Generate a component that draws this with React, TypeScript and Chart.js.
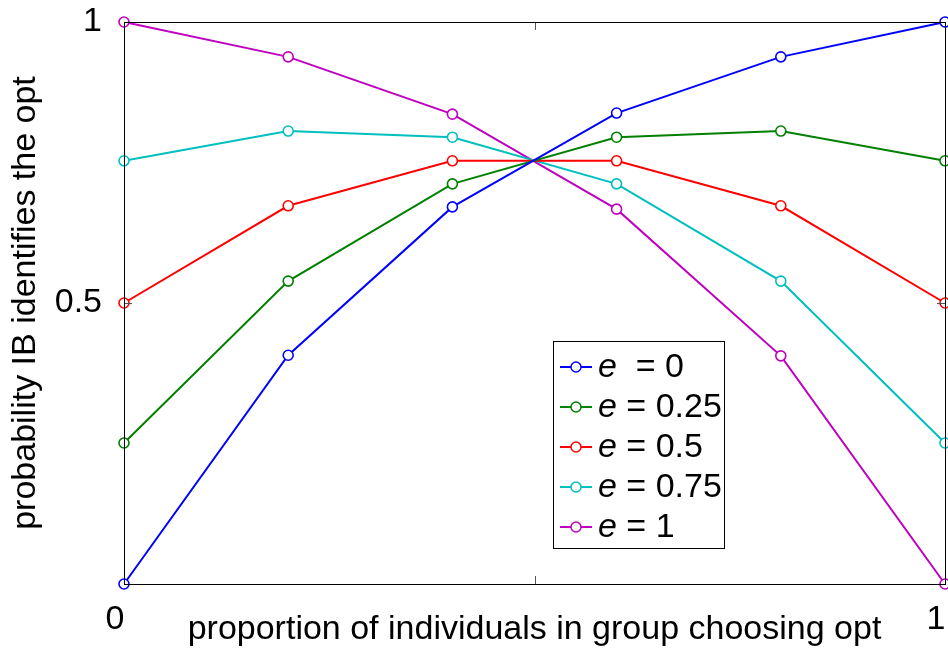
import React, { useEffect, useRef } from "react";
import { Chart, registerables } from "chart.js";

Chart.register(...registerables);

const xValues = [0, 0.2, 0.4, 0.6, 0.8, 1];
const e0 = [0, 0.407, 0.671, 0.838, 0.938, 1];
const e025 = [0.251, 0.539, 0.712, 0.795, 0.806, 0.753];
const e05 = [0.5, 0.673, 0.753, 0.753, 0.673, 0.5];
const e075 = [0.753, 0.806, 0.795, 0.712, 0.539, 0.251];
const e1 = [1, 0.938, 0.836, 0.667, 0.406, 0];
const seriesLabels = ["e  = 0", "e = 0.25", "e = 0.5", "e = 0.75", "e = 1"];
const seriesColors = ["#0000ff", "#008000", "#ff0000", "#00bfbf", "#bf00bf"];
const xTickLabels: Record<string, string> = { "0": "0", "1": "1" };
const yTickLabels: Record<string, string> = { "0.5": "0.5", "1": "1" };

const FONT = "'Liberation Sans', Arial, sans-serif";
const FS = 34;

const framePlugin = {
  id: "frame",
  afterDatasetsDraw(chart: any) {
    const { ctx, chartArea } = chart;
    const { left, right, top, bottom } = chartArea;
    ctx.save();
    ctx.strokeStyle = "#555";
    ctx.lineWidth = 1;
    const xs = chart.scales.x;
    const ys = chart.scales.y;
    const tl = 8;
    ctx.beginPath();
    [0.5].forEach((v) => {
      const px = Math.round(xs.getPixelForValue(v)) + 0.5;
      ctx.moveTo(px, bottom);
      ctx.lineTo(px, bottom - tl);
      ctx.moveTo(px, top);
      ctx.lineTo(px, top + tl);
      const py = Math.round(ys.getPixelForValue(v)) + 0.5;
      ctx.moveTo(left, py);
      ctx.lineTo(left + tl, py);
      ctx.moveTo(right, py);
      ctx.lineTo(right - tl, py);
    });
    ctx.stroke();
    ctx.strokeStyle = "#000";
    ctx.lineWidth = 1;
    ctx.strokeRect(Math.round(left) + 0.5, Math.round(top) + 0.5, Math.round(right - left), Math.round(bottom - top));
    ctx.restore();
  },
  afterDraw(chart: any) {
    const { ctx, chartArea } = chart;
    const bx = chartArea.left + 429;
    const by = chartArea.top + 319;
    const bw = 171;
    const bh = 207;
    ctx.save();
    ctx.fillStyle = "#fff";
    ctx.fillRect(bx, by, bw, bh);
    ctx.strokeStyle = "#000";
    ctx.lineWidth = 1;
    ctx.strokeRect(bx + 0.5, by + 0.5, bw, bh);
    chart.data.datasets.forEach((ds: any, i: number) => {
      const cy = by + 26 + i * 40;
      ctx.strokeStyle = ds.borderColor;
      ctx.lineWidth = 2;
      ctx.beginPath();
      ctx.moveTo(bx + 7, cy);
      ctx.lineTo(bx + 39, cy);
      ctx.stroke();
      ctx.fillStyle = "#fff";
      ctx.lineWidth = 1.5;
      ctx.beginPath();
      ctx.arc(bx + 23, cy, 5, 0, Math.PI * 2);
      ctx.fill();
      ctx.stroke();
      const label: string = ds.label;
      ctx.fillStyle = "#000";
      ctx.textBaseline = "middle";
      ctx.textAlign = "left";
      ctx.font = `italic ${FS}px ${FONT}`;
      const first = label.charAt(0);
      ctx.fillText(first, bx + 45, cy + 1);
      const w = ctx.measureText(first).width;
      ctx.font = `${FS}px ${FONT}`;
      ctx.fillText(label.slice(1), bx + 45 + w, cy + 1);
    });
    ctx.restore();
  },
};

export default function App() {
  const ref = useRef<HTMLCanvasElement>(null);
  useEffect(() => {
    if (!ref.current) return;
    const all = [e0, e025, e05, e075, e1];
    const chart = new Chart(ref.current, {
      type: "line",
      data: {
        datasets: all.map((vals, i) => ({
          label: seriesLabels[i],
          data: xValues.map((x, j) => ({ x, y: vals[j] })),
          borderColor: seriesColors[i],
          backgroundColor: "#ffffff",
          pointBorderColor: seriesColors[i],
          pointBackgroundColor: "#ffffff",
          borderWidth: 2,
          pointRadius: 5,
          pointBorderWidth: 1.6,
          tension: 0,
          clip: false as any,
        })),
      },
      options: {
        responsive: false,
        animation: false,
        layout: { padding: { top: 22, right: 3, left: 0, bottom: 0 }, autoPadding: false },
        plugins: { legend: { display: false }, tooltip: { enabled: false } },
        scales: {
          x: {
            type: "linear",
            min: 0,
            max: 1,
            grid: { display: false },
            border: { display: false },
            afterFit: (s: any) => {
              s.height = 65;
              s.paddingLeft = 0;
              s.paddingRight = 0;
              s.paddingTop = 0;
              s.paddingBottom = 0;
            },
            ticks: {
              stepSize: 0.5,
              autoSkip: false,
              maxRotation: 0,
              padding: 7,
              labelOffset: -9,
              color: "#000",
              font: { family: FONT, size: FS },
              callback: (v: any) => xTickLabels[String(v)] ?? "",
            },
            title: {
              display: true,
              text: "proportion of individuals in group choosing opt",
              color: "#000",
              font: { family: FONT, size: FS, lineHeight: 1.2 },
              padding: { top: 0, bottom: -1 },
            },
          },
          y: {
            min: 0,
            max: 1,
            grid: { display: false },
            border: { display: false },
            afterFit: (s: any) => {
              s.width = 124;
              s.paddingLeft = 0;
              s.paddingRight = 0;
              s.paddingTop = 0;
              s.paddingBottom = 0;
            },
            ticks: {
              stepSize: 0.5,
              autoSkip: false,
              padding: 14,
              color: "#000",
              font: { family: FONT, size: FS },
              callback: (v: any) => yTickLabels[String(v)] ?? "",
            },
            title: {
              display: true,
              text: "probability IB identifies the opt",
              color: "#000",
              font: { family: FONT, size: FS, lineHeight: 1.2 },
              padding: { top: 5, bottom: 0 },
            },
          },
        },
      },
      plugins: [framePlugin],
    });
    return () => chart.destroy();
  }, []);
  return (
    <div style={{ position: "absolute", left: 0, top: 0, width: 948, height: 649, background: "#fff" }}>
      <canvas ref={ref} width={948} height={649} />
    </div>
  );
}
